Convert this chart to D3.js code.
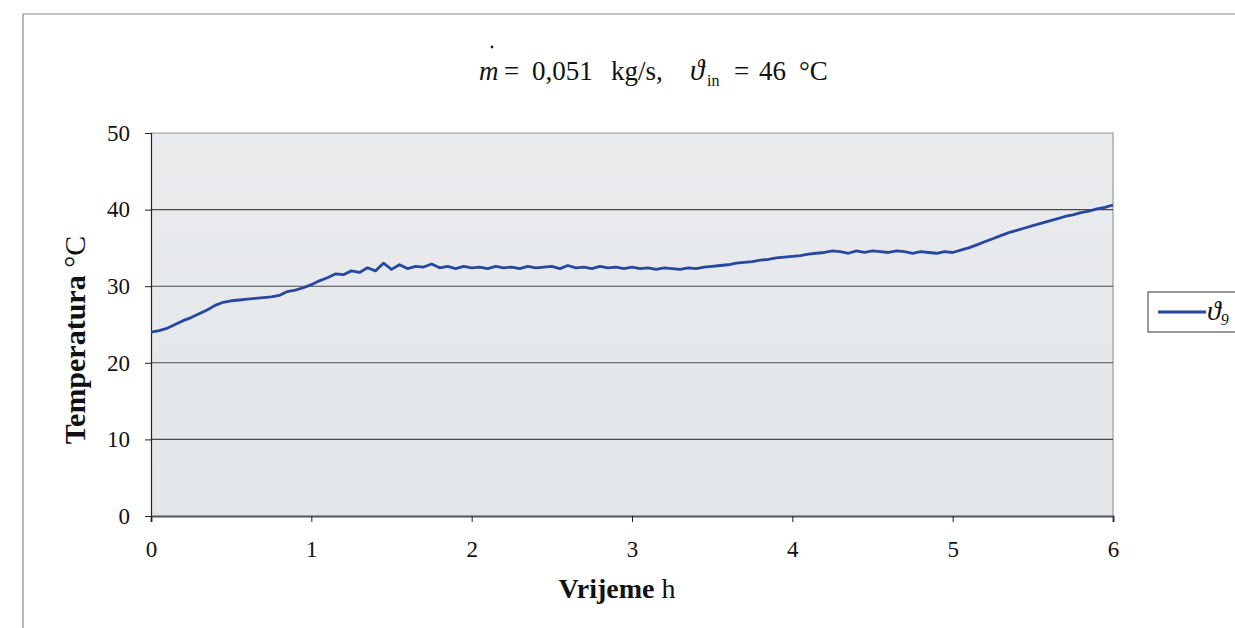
<!DOCTYPE html>
<html><head><meta charset="utf-8">
<script src="https://cdn.jsdelivr.net/npm/d3@7"></script>
<style>body{margin:0;background:#fff}svg{display:block}</style>
</head><body>
<script>
const timeH = [0.00,0.05,0.10,0.15,0.20,0.25,0.30,0.35,0.40,0.45,0.50,0.55,0.60,0.65,0.70,0.75,0.80,0.85,0.90,0.95,
1.00,1.05,1.10,1.15,1.20,1.25,1.30,1.35,1.40,1.45,1.50,1.55,1.60,1.65,1.70,1.75,1.80,1.85,1.90,1.95,
2.00,2.05,2.10,2.15,2.20,2.25,2.30,2.35,2.40,2.45,2.50,2.55,2.60,2.65,2.70,2.75,2.80,2.85,2.90,2.95,
3.00,3.05,3.10,3.15,3.20,3.25,3.30,3.35,3.40,3.45,3.50,3.55,3.60,3.65,3.70,3.75,3.80,3.85,3.90,3.95,
4.00,4.05,4.10,4.15,4.20,4.25,4.30,4.35,4.40,4.45,4.50,4.55,4.60,4.65,4.70,4.75,4.80,4.85,4.90,4.95,
5.00,5.05,5.10,5.15,5.20,5.25,5.30,5.35,5.40,5.45,5.50,5.55,5.60,5.65,5.70,5.75,5.80,5.85,5.90,5.95,6.00];
const theta9 = [24.0,24.2,24.5,25.0,25.5,25.9,26.4,26.9,27.5,27.9,28.1,28.2,28.3,28.4,28.5,28.6,28.8,29.3,29.5,29.8,
30.2,30.7,31.1,31.6,31.5,32.0,31.8,32.4,32.0,33.0,32.2,32.8,32.3,32.6,32.5,32.9,32.4,32.6,32.3,32.6,
32.4,32.5,32.3,32.6,32.4,32.5,32.3,32.6,32.4,32.5,32.6,32.3,32.7,32.4,32.5,32.3,32.6,32.4,32.5,32.3,
32.5,32.3,32.4,32.2,32.4,32.3,32.2,32.4,32.3,32.5,32.6,32.7,32.8,33.0,33.1,33.2,33.4,33.5,33.7,33.8,
33.9,34.0,34.2,34.3,34.4,34.6,34.5,34.3,34.6,34.4,34.6,34.5,34.4,34.6,34.5,34.3,34.5,34.4,34.3,34.5,
34.4,34.7,35.0,35.4,35.8,36.2,36.6,37.0,37.3,37.6,37.9,38.2,38.5,38.8,39.1,39.3,39.6,39.8,40.1,40.3,40.6];
const xTicks = [0,1,2,3,4,5,6];
const yTicks = [0,10,20,30,40,50];

const W = 1235, H = 628;
const svg = d3.select("body").append("svg").attr("width", W).attr("height", H);
const serif = "'Liberation Serif','Times New Roman',serif";

// outer chart border
svg.append("path").attr("d", `M23,${H} V14 H${W}`).attr("fill","none").attr("stroke","#8a8a8a").attr("stroke-width",1.2);

const L = 151, R = 1113, T = 133, B = 516;
const x = d3.scaleLinear().domain([0,6]).range([L,R]);
const y = d3.scaleLinear().domain([0,50]).range([B,T]);

// plot background
const defs = svg.append("defs");
const g = defs.append("linearGradient").attr("id","bg").attr("x1",0).attr("x2",0).attr("y1",0).attr("y2",1);
g.append("stop").attr("offset","0%").attr("stop-color","#e9ebed");
g.append("stop").attr("offset","100%").attr("stop-color","#e3e6e9");
svg.append("rect").attr("x",L).attr("y",T).attr("width",R-L).attr("height",B-T).attr("fill","url(#bg)");
svg.append("path").attr("d",`M${L},${T} H${R} V${B}`).attr("fill","none").attr("stroke","#9a9a9a").attr("stroke-width",1.2);

// gridlines
svg.append("g").selectAll("line").data(yTicks.filter(d=>d>0&&d<50)).join("line")
  .attr("x1",L).attr("x2",R).attr("y1",d=>y(d)).attr("y2",d=>y(d))
  .attr("stroke","#4a4a4a").attr("stroke-width",1.1);

// axes
const yAxis = svg.append("g").attr("transform",`translate(${L},0)`)
  .call(d3.axisLeft(y).tickValues(yTicks).tickSize(6).tickPadding(15).tickFormat(d3.format("d")));
const xAxis = svg.append("g").attr("transform",`translate(0,${B})`)
  .call(d3.axisBottom(x).tickValues(xTicks).tickSize(6).tickPadding(19).tickFormat(d3.format("d")));
[yAxis,xAxis].forEach(a=>{
  a.select(".domain").attr("stroke","#222").attr("stroke-width",1.2);
  a.selectAll(".tick line").attr("stroke","#222");
  a.selectAll(".tick text").attr("font-family",serif).attr("font-size",23).attr("fill","#111");
});
xAxis.select(".domain").attr("stroke","#555").attr("stroke-width",2);

// data line
const line = d3.line().x((d,i)=>x(timeH[i])).y(d=>y(d));
svg.append("path").datum(theta9).attr("d",line).attr("fill","none")
  .attr("stroke","#2747a0").attr("stroke-width",2.8).attr("stroke-linejoin","round");

// title
const tAttrs = sel => sel.attr("font-family",serif).attr("font-size",27).attr("fill","#111");
const tp = (xx, txt, opts={}) => {
  const t = svg.append("text").attr("x",xx).attr("y",opts.y||80).call(tAttrs).text(txt);
  if (opts.italic) t.attr("font-style","italic");
  if (opts.size) t.attr("font-size",opts.size);
  return t;
};
tp(479,"m",{italic:true});
tp(504,"=");
tp(532,"0,051");
tp(611,"kg/s,");
tp(690,"ϑ",{italic:true,size:29});
tp(707,"in",{y:86,size:16});
tp(734,"=");
tp(759,"46");
tp(799,"°C");
// dot over m
svg.append("circle").attr("cx",492).attr("cy",47).attr("r",1.4).attr("fill","#222");

// y label
const yl = svg.append("text").attr("transform","translate(85,340) rotate(-90)").attr("text-anchor","middle")
  .attr("font-family",serif).attr("font-size",30).attr("fill","#111");
yl.append("tspan").attr("font-weight","bold").text("Temperatura");
yl.append("tspan").text("  °C");

// x label
const xl = svg.append("text").attr("x",617).attr("y",598).attr("text-anchor","middle")
  .attr("font-family",serif).attr("font-size",28).attr("fill","#111");
xl.append("tspan").attr("font-weight","bold").text("Vrijeme");
xl.append("tspan").text("  h");

// legend
const lg = svg.append("g");
lg.append("rect").attr("x",1148).attr("y",292).attr("width",120).attr("height",40)
  .attr("fill","#fff").attr("stroke","#555").attr("stroke-width",1.2);
lg.append("line").attr("x1",1158).attr("x2",1206).attr("y1",312).attr("y2",312)
  .attr("stroke","#2747a0").attr("stroke-width",2.8);
const lt = lg.append("text").attr("x",1207).attr("y",320).attr("font-family",serif)
  .attr("font-size",28).attr("font-style","italic").attr("fill","#111");
lt.append("tspan").text("ϑ");
lt.append("tspan").attr("font-size",16).attr("dy",5).text("9");
</script>
</body></html>
